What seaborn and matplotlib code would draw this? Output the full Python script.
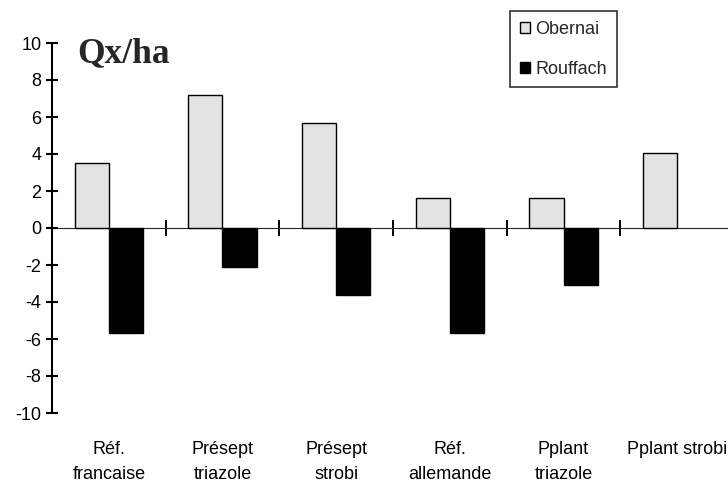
import matplotlib
matplotlib.use('Agg')
import matplotlib.pyplot as plt
import seaborn as sns
import pandas as pd
import numpy as np

categories = ['Réf.\nfrancaise', 'Présept\ntriazole', 'Présept\nstrobi',
              'Réf.\nallemande', 'Pplant\ntriazole', 'Pplant strobi']
obernai = [3.5, 7.2, 5.7, 1.6, 1.6, 4.05]
rouffach = [-5.7, -2.1, -3.6, -5.7, -3.1, np.nan]
yticks = [-10, -8, -6, -4, -2, 0, 2, 4, 6, 8, 10]

df = pd.DataFrame({
    'cat': categories * 2,
    'val': obernai + rouffach,
    'site': ['Obernai'] * 6 + ['Rouffach'] * 6,
})

sns.set_style('white')
plt.rcParams['font.family'] = ['Liberation Sans', 'DejaVu Sans']

fig = plt.figure(figsize=(7.28, 4.88), dpi=100)
ax = fig.add_axes([52 / 728, 1 - 413 / 488, 682 / 728, 370 / 488])

sns.barplot(data=df, x='cat', y='val', hue='site', order=categories,
            palette={'Obernai': '#e3e3e3', 'Rouffach': '#000000'},
            width=0.6, gap=0, edgecolor='black', linewidth=1,
            errorbar=None, ax=ax)

ax.set_xlim(-0.5, len(categories) - 0.5)
ax.set_ylim(-10, 10)
ax.set_yticks(yticks)
ax.set_yticklabels([str(t) for t in yticks], fontsize=13)
ax.set_xlabel('')
ax.set_ylabel('')

for s in ['top', 'right', 'bottom']:
    ax.spines[s].set_visible(False)
ax.spines['left'].set_linewidth(1.5)
ax.spines['left'].set_color('black')
ax.tick_params(axis='y', left=True, direction='inout', length=9, width=1.5,
               pad=3, colors='black')
ax.tick_params(axis='x', bottom=False, length=0, pad=20, labelsize=13, colors='black')
for lbl in ax.get_xticklabels():
    lbl.set_linespacing(1.6)

# zero axis with category-boundary ticks
zero = ax.secondary_xaxis(0.5)
zero.set_xticks(np.arange(0.5, len(categories) - 0.5, 1))
zero.set_xticklabels([])
zero.spines['bottom'].set_linewidth(1.2)
zero.tick_params(bottom=True, direction='inout', length=12, width=1.2, colors='black')

ax.text(0.037, 1.015, 'Qx/ha', transform=ax.transAxes, family='Liberation Serif',
        fontweight='bold', fontsize=25.5, va='top', ha='left')

leg = ax.legend(loc='upper left', bbox_to_anchor=(510 / 728, 1 - 11 / 488),
                bbox_transform=fig.transFigure, fontsize=13, frameon=True,
                fancybox=False, edgecolor='black', handlelength=0.55,
                handleheight=0.55, handletextpad=0.3, labelspacing=1.25,
                borderpad=0.55, borderaxespad=0)
leg.get_frame().set_linewidth(1.2)

fig.savefig('out.png', dpi=100)
